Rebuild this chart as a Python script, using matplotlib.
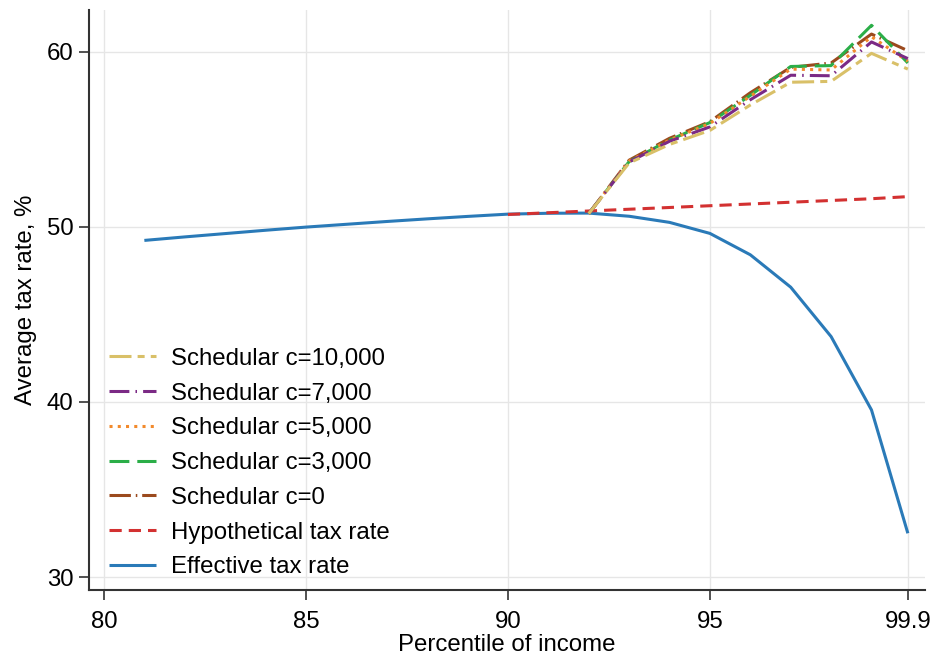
import matplotlib
matplotlib.use("Agg")
import matplotlib.pyplot as plt

plt.rcParams['font.family'] = ['Liberation Sans', 'DejaVu Sans']

# Effective tax rate, percentiles 81 .. 99, then 99.9
pct_eff = [81, 82, 83, 84, 85, 86, 87, 88, 89, 90, 91, 92, 93, 94, 95, 96, 97, 98, 99, 99.9]
eff_rate = [49.22, 49.42, 49.61, 49.80, 49.98, 50.14, 50.30, 50.45, 50.59, 50.72,
            50.77, 50.78, 50.60, 50.25, 49.62, 48.40, 46.55, 43.73, 39.54, 32.50]

# Hypothetical tax rate, percentiles 90 .. 99.9
pct_hyp = [90, 91, 92, 93, 94, 95, 96, 97, 98, 99, 99.9]
hyp_rate = [50.70, 50.80, 50.90, 51.00, 51.10, 51.20, 51.30, 51.40, 51.50, 51.60, 51.72]

# Schedular schemes, percentiles 92 .. 99.9
pct_sch = [92, 93, 94, 95, 96, 97, 98, 99, 99.9]
sch_c0 = [50.75, 53.80, 55.05, 56.00, 57.65, 59.10, 59.35, 61.00, 60.05]
sch_c3000 = [50.75, 53.72, 54.95, 55.95, 57.50, 59.15, 59.20, 61.50, 59.35]
sch_c5000 = [50.75, 53.75, 54.95, 55.90, 57.45, 59.00, 58.95, 60.85, 59.45]
sch_c7000 = [50.75, 53.70, 54.88, 55.70, 57.25, 58.65, 58.62, 60.55, 59.60]
sch_c10000 = [50.75, 53.64, 54.70, 55.50, 56.95, 58.25, 58.30, 59.90, 59.00]

x_ticks = [80, 85, 90, 95, 99.9]
x_ticklabels = ['80', '85', '90', '95', '99.9']
y_ticks = [30, 40, 50, 60]

fig = plt.figure(figsize=(9.37, 6.6), dpi=100)
ax = fig.add_axes([0.095, 0.106, 0.892, 0.879])

lw = 2.2
ax.plot(pct_eff, eff_rate, color='#2a7ab8', lw=lw, solid_capstyle='butt',
        label='Effective tax rate')
ax.plot(pct_hyp, hyp_rate, color='#d33131', lw=lw, ls=(0, (4, 2.3)),
        label='Hypothetical tax rate')
ax.plot(pct_sch, sch_c0, color='#9b4a1e', lw=lw, ls=(0, (7, 1.6, 0.5, 1.6)),
        label='Schedular c=0')
ax.plot(pct_sch, sch_c3000, color='#2bae48', lw=lw, ls=(0, (6.5, 2.6)),
        label='Schedular c=3,000')
ax.plot(pct_sch, sch_c5000, color='#f28a2c', lw=lw, ls=(0, (1, 1.7)),
        label='Schedular c=5,000')
ax.plot(pct_sch, sch_c7000, color='#7b2a85', lw=lw, ls=(0, (6.5, 2, 0.5, 2)),
        label='Schedular c=7,000')
ax.plot(pct_sch, sch_c10000, color='#d9c068', lw=lw, ls=(0, (7.2, 2, 2.3, 2)),
        label='Schedular c=10,000')

ax.set_xlim(79.63, 100.32)
ax.set_ylim(29.26, 62.38)
ax.set_xticks(x_ticks)
ax.set_xticklabels(x_ticklabels)
ax.set_yticks(y_ticks)

ax.grid(True, color='#e6e6e6', lw=1.0)
ax.set_axisbelow(True)
for side in ['top', 'right']:
    ax.spines[side].set_visible(False)
for side in ['left', 'bottom']:
    ax.spines[side].set_color('#333333')
    ax.spines[side].set_linewidth(1.5)
ax.tick_params(axis='both', direction='out', length=7, width=1.2,
               color='#333333', labelsize=17.3, pad=4)
ax.tick_params(axis='x', pad=8)

ax.set_xlabel('Percentile of income', fontsize=17.3, labelpad=1)
ax.set_ylabel('Average tax rate, %', fontsize=17.3, labelpad=7)

handles, labels = ax.get_legend_handles_labels()
ax.legend(handles[::-1], labels[::-1], loc='lower left',
          bbox_to_anchor=(0.018, 0.012), frameon=False, fontsize=17.3,
          handlelength=1.95, handletextpad=0.62, labelspacing=0.53,
          borderpad=0.2, borderaxespad=0)

fig.savefig('out.png', dpi=100)
